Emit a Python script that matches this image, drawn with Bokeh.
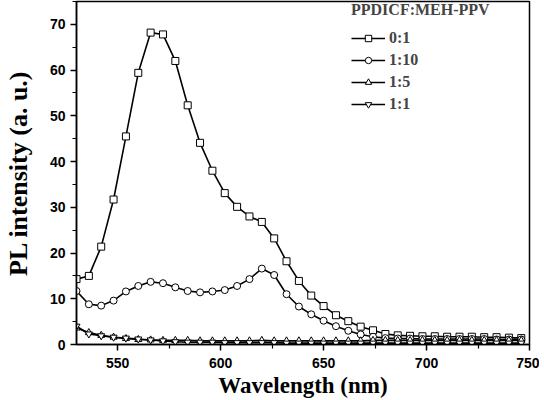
from bokeh.plotting import figure
from bokeh.models import Range1d, FixedTicker, Legend, LegendItem
from bokeh.embed import file_html
from bokeh.resources import INLINE

# wavelengths of the plotted points (nm)
wavelength = [530, 536, 542, 548, 554, 560, 566, 572, 578, 584, 590, 596, 602, 608,
              614, 620, 626, 632, 638, 644, 650, 656, 662, 668, 674, 680, 686, 692,
              698, 704, 710, 716, 722, 728, 734, 740, 746]

ratio_0_1 = [14.3, 15.0, 21.4, 31.7, 45.5, 59.4, 68.2, 67.8, 62.0, 52.3, 44.1, 38.0, 33.1, 30.1,
             28.0, 26.8, 23.2, 18.2, 13.9, 10.7, 8.4, 6.4, 5.1, 3.9, 3.1, 2.3, 2.0, 1.9,
             1.8, 1.8, 1.7, 1.7, 1.7, 1.6, 1.6, 1.5, 1.4]

ratio_1_10 = [11.7, 8.8, 8.5, 9.6, 11.6, 12.8, 13.7, 13.4, 12.5, 11.7, 11.4, 11.6, 11.9, 12.8,
              14.3, 16.6, 15.2, 11.0, 8.3, 6.6, 5.2, 4.0, 3.0, 2.2, 1.7, 1.4, 1.3, 1.3,
              1.2, 1.2, 1.2, 1.2, 1.2, 1.2, 1.1, 1.1, 1.1]

ratio_1_5 = [3.6, 2.6, 2.0, 1.6, 1.3, 1.1, 1.0, 0.9, 0.9, 0.9, 0.8, 0.8, 0.8, 0.8,
             0.8, 0.9, 0.8, 0.8, 0.8, 0.8, 0.8, 0.8, 0.8, 0.8, 0.9, 0.9, 0.9, 0.9,
             0.9, 0.9, 0.9, 0.9, 0.9, 0.9, 0.9, 0.9, 0.9]

ratio_1_1 = [4.0, 2.3, 1.9, 1.6, 1.4, 1.2, 1.0, 0.8, 0.6, 0.5, 0.5, 0.5, 0.4, 0.4,
             0.4, 0.4, 0.4, 0.3, 0.3, 0.3, 0.3, 0.3, 0.3, 0.3, 0.3, 0.3, 0.3, 0.3,
             0.3, 0.3, 0.3, 0.3, 0.3, 0.3, 0.3, 0.3, 0.3]

series_labels = ["0:1", "1:10", "1:5", "1:1"]
series_markers = ["square", "circle", "triangle", "inverted_triangle"]
legend_title = "PPDICF:MEH-PPV"
x_title = "Wavelength (nm)"
y_title = "PL intensity (a. u.)"
x_ticks = [550, 600, 650, 700, 750]
x_minor = [575, 625, 675, 725]
y_ticks = [0, 10, 20, 30, 40, 50, 60, 70]
y_minor = [5, 15, 25, 35, 45, 55, 65, 75]

p = figure(width=539, height=400, output_backend="svg", toolbar_location=None,
           x_range=Range1d(530, 750), y_range=Range1d(0, 75),
           min_border_left=75, min_border_top=1, min_border_right=10, min_border_bottom=10)

p.grid.visible = False
p.outline_line_color = "black"
p.outline_line_width = 1.5
p.background_fill_color = "white"
p.border_fill_color = "white"

for ax in (p.xaxis[0], p.yaxis[0]):
    ax.axis_line_width = 1.5
    ax.major_tick_line_width = 1.5
    ax.minor_tick_line_width = 1.2
    ax.major_tick_in = 0
    ax.major_tick_out = 6
    ax.minor_tick_in = 0
    ax.minor_tick_out = 4
    ax.major_label_text_font = "Liberation Sans"
    ax.major_label_text_font_style = "bold"
    ax.major_label_text_font_size = "14px"
    ax.major_label_text_color = "black"
    ax.axis_label_text_font = "Liberation Serif"
    ax.axis_label_text_font_style = "bold"
    ax.axis_label_text_color = "black"

p.xaxis.axis_label_text_font_size = "23px"
p.yaxis.axis_label_text_font_size = "26px"
p.xaxis.ticker = FixedTicker(ticks=x_ticks, minor_ticks=x_minor)
p.yaxis.ticker = FixedTicker(ticks=y_ticks, minor_ticks=y_minor)
p.xaxis.axis_label = x_title
p.yaxis.axis_label = y_title
p.xaxis.major_label_standoff = 7
p.yaxis.major_label_standoff = 5
p.xaxis.axis_label_standoff = 2
p.yaxis.axis_label_standoff = 14

series = [ratio_0_1, ratio_1_10, ratio_1_5, ratio_1_1]
items = []
for vals, lab, mk in zip(series, series_labels, series_markers):
    ln = p.line(wavelength, vals, line_color="black", line_width=1.6)
    sc = p.scatter(wavelength, vals, marker=mk, size=7, fill_color="white",
                   line_color="black", line_width=1)
    items.append(LegendItem(label=lab, renderers=[ln, sc]))

legend = Legend(items=items, location=(275, 231), title=legend_title,
                title_text_font="Liberation Serif", title_text_font_style="bold",
                title_text_font_size="16px", title_standoff=10,
                label_text_font="Liberation Serif", label_text_font_style="bold",
                label_text_font_size="16px", glyph_width=34, glyph_height=16,
                label_height=16, spacing=4, padding=0, margin=0,
                border_line_alpha=0, background_fill_alpha=0, label_standoff=4)
p.add_layout(legend)

open("out.html", "w").write(file_html(p, INLINE))
